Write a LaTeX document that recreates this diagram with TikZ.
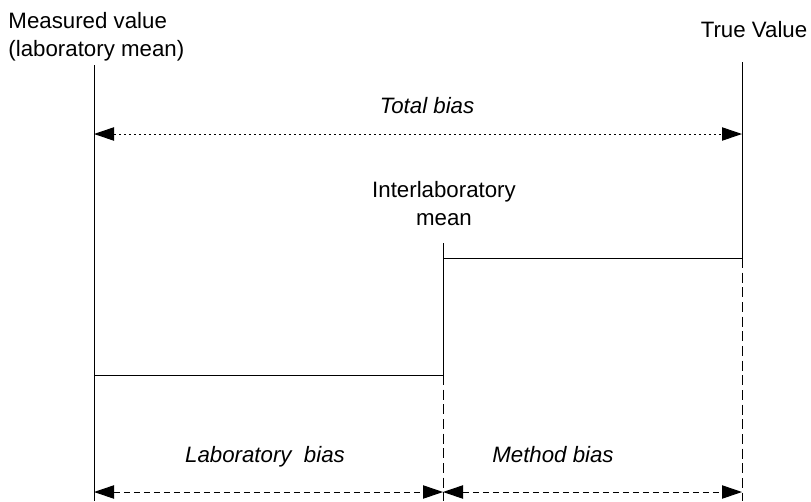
\documentclass[tikz,border=0pt]{standalone}
\usepackage{fontspec}
\setmainfont{Liberation Sans}
\usetikzlibrary{arrows.meta}
\tikzset{
	lbl/.style={font=\fontsize{16.7}{21}\selectfont,inner sep=0pt},
	bias/.style={lbl,font=\fontsize{16.7}{21}\selectfont\itshape},
	tip/.style={{Triangle[length=15pt,width=10pt]}-{Triangle[length=15pt,width=10pt]}},
	guide/.style={dash pattern=on 7.5pt off 3.5pt},
}
\begin{document}
\begin{tikzpicture}[x=0.75pt,y=-0.75pt,line width=0.75pt]
	\useasboundingbox (0,0) rectangle (811,501);
	% end points of the lines
	\coordinate (mtop) at (94,65);
	\coordinate (mbot) at (94,501);
	\coordinate (ttop) at (742,62);
	\coordinate (tstep) at (742,258);
	\coordinate (tbot) at (742,501);
	\coordinate (itop) at (443,243);
	\coordinate (istep) at (443,258);
	\coordinate (ilow) at (443,375);
	\coordinate (ibot) at (443,501);
	\coordinate (mstep) at (94,375);
	\coordinate (totL) at (94,134);
	\coordinate (totR) at (742,134);
	\coordinate (labL) at (94,492);
	\coordinate (labR) at (443,492);
	\coordinate (metR) at (742,492);
	% texts
	\node[lbl,anchor=base west,align=left] (meas) at (8,56) {Measured value\\(laboratory mean)};
	\node[lbl,anchor=base] (true) at (754,37) {True Value};
	\node[lbl,anchor=base,align=center] (inter) at (444,225) {Interlaboratory\\mean};
	\node[bias,anchor=base] (total) at (427,113) {Total bias};
	\node[bias,anchor=base] (labb) at (265,462) {Laboratory\ \ bias};
	\node[bias,anchor=base] (methb) at (553,462) {Method bias};
	% verticals
	\draw (mtop) -- (mbot);
	\draw (ttop) -- (tstep);
	\draw[guide] (tstep) -- (tbot);
	\draw (itop) -- (ilow);
	\draw[guide] (ilow) -- (ibot);
	% steps
	\draw (istep) -- (tstep);
	\draw (mstep) -- (ilow);
	% biases
	\draw[tip,dash pattern=on 1.5pt off 2.25pt] (totL) -- (totR);
	\draw[tip,dash pattern=on 4.5pt off 3pt] (labL) -- (labR);
	\draw[tip,dash pattern=on 4.5pt off 3pt] (labR) -- (metR);
\end{tikzpicture}
\end{document}
